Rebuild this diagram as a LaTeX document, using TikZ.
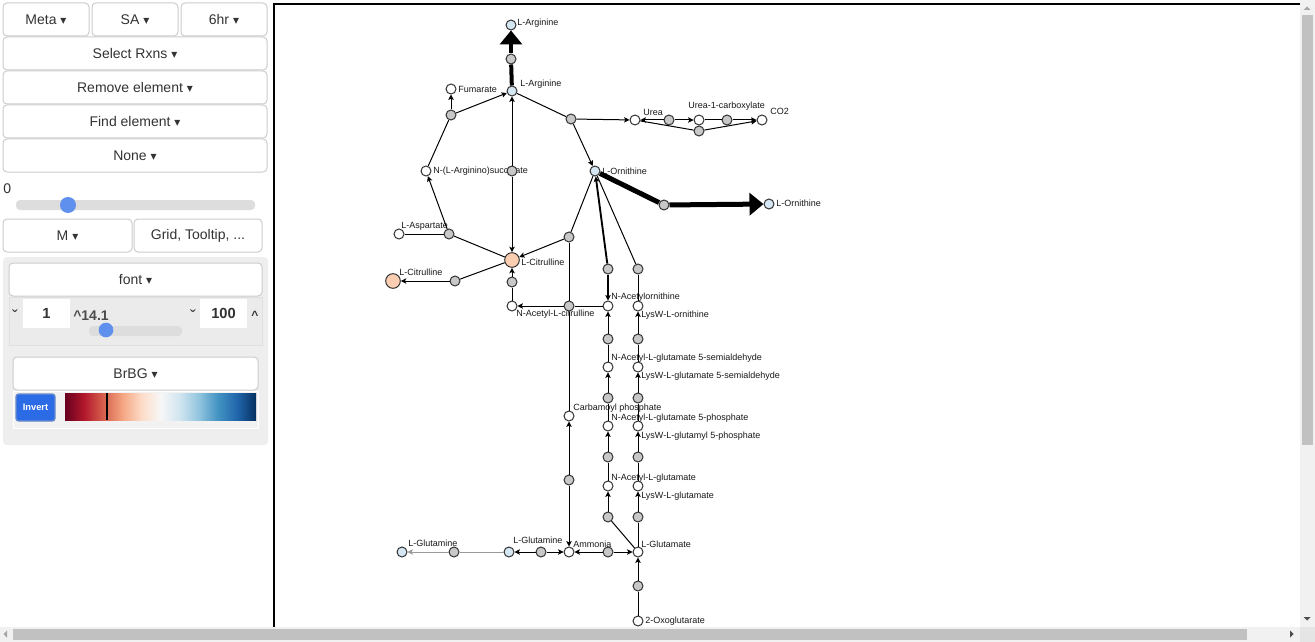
\documentclass[tikz,border=0pt]{standalone}
\usepackage{fontspec}
\setmainfont{Liberation Sans}
\newfontfamily\symf{DejaVu Sans}
\usetikzlibrary{arrows.meta,positioning}

\definecolor{metblue}{HTML}{D4E7F3}
\definecolor{metsalmon}{HTML}{FBCDB1}
\definecolor{rxngray}{HTML}{C8C8C8}
\definecolor{btnline}{HTML}{CCCCCC}
\definecolor{btntext}{HTML}{333333}
\definecolor{panelgray}{HTML}{EEEEEE}
\definecolor{knobblue}{HTML}{6090EE}
\definecolor{trackgray}{HTML}{DDDDDD}
\definecolor{barthumb}{HTML}{C1C1C1}
\definecolor{bartrack}{HTML}{F1F1F1}
\definecolor{invblue}{HTML}{2C6BE6}
\definecolor{invline}{HTML}{6A8CCB}
% RdBu colour bar
\definecolor{cb0}{HTML}{67001F}
\definecolor{cb1}{HTML}{B2182B}
\definecolor{cb2}{HTML}{D6604D}
\definecolor{cb3}{HTML}{F4A582}
\definecolor{cb4}{HTML}{FDDBC7}
\definecolor{cb5}{HTML}{F7F7F7}
\definecolor{cb6}{HTML}{D1E5F0}
\definecolor{cb7}{HTML}{92C5DE}
\definecolor{cb8}{HTML}{4393C3}
\definecolor{cb9}{HTML}{2166AC}
\definecolor{cb10}{HTML}{053061}
\pgfdeclarehorizontalshading{rdbu}{100bp}{color(0bp)=(cb0); color(25bp)=(cb0);
  color(30bp)=(cb1); color(35bp)=(cb2); color(40bp)=(cb3); color(45bp)=(cb4);
  color(50bp)=(cb5); color(55bp)=(cb6); color(60bp)=(cb7); color(65bp)=(cb8);
  color(70bp)=(cb9); color(75bp)=(cb10); color(100bp)=(cb10)}

\newcommand\caret{~{\symf\fontsize{9}{9}\selectfont ▾}}

\tikzset{
  met_pt/.style={circle,inner sep=0pt,minimum size=7.5pt,line width=.75pt,draw=black!80,fill=white},
  met_blue/.style={met_pt,fill=metblue},
  met_hot/.style={met_pt,fill=metsalmon,minimum size=11pt},
  rxn_pt/.style={circle,inner sep=0pt,minimum size=7.5pt,line width=.75pt,draw=black!80,fill=rxngray},
  lbl/.style={anchor=west,inner sep=0pt,font=\fontsize{6.75}{7}\selectfont,text=black!90},
  btn/.style={draw=btnline,fill=white,rounded corners=3pt,line width=.75pt,inner sep=0pt,
    minimum height=24.75pt,font=\fontsize{10.5}{12}\selectfont,text=btntext},
  ui_txt/.style={inner sep=0pt,font=\fontsize{10.5}{12}\selectfont,text=btntext},
}

\begin{document}
\begin{tikzpicture}[
  x=.75pt, y=-.75pt,
  edge/.style={line width=.75pt},
  prod/.style={edge,-{Stealth[length=4pt,width=4pt,inset=.8pt]}},
  faint/.style={line width=.75pt,draw=black!40},
  flux/.style={line width=3pt},
  fluxend/.style={line width=3pt,-{Triangle[length=10.5pt,width=16.5pt]}},
  ]
  \useasboundingbox (0,0) rectangle (1315,642);
  \fill[white] (0,0) rectangle (1315,642);

  % control panel
  \node[btn,minimum width=64.5pt] (meta) at (46,19.5) {Meta\caret};
  \node[btn,minimum width=64.5pt] (sa) at (135,19.5) {SA\caret};
  \node[btn,minimum width=64.5pt] (hr) at (224,19.5) {6hr\caret};
  \node[btn,minimum width=198pt] (selrxn) at (135,53.5) {Select Rxns\caret};
  \node[btn,minimum width=198pt] (remove) at (135,87.5) {Remove element\caret};
  \node[btn,minimum width=198pt] (find) at (135,121.5) {Find element\caret};
  \node[btn,minimum width=198pt] (none) at (135,155.5) {None\caret};
  \node[ui_txt,anchor=west] (zero) at (3,189) {0};
  \fill[trackgray,rounded corners=3pt] (16,200) rectangle (255,210);
  \fill[knobblue] (68,205) circle[radius=6pt];
  \node[btn,minimum width=96.75pt] (mbtn) at (67.5,235.5) {M\caret};
  \node[btn,minimum width=96pt] (grid) at (198,235.5) {Grid, Tooltip, ...};

  \fill[panelgray,rounded corners=3pt] (3,257) rectangle (268,445);
  \node[btn,minimum width=189.75pt] (font) at (135.5,279.5) {font\caret};
  \draw[black!12,fill=black!8] (9,297) rectangle (262,345);
  \node[ui_txt,font=\fontsize{13}{13}\selectfont] (dn1) at (15,316) {ˇ};
  \node[fill=white,minimum width=35.25pt,minimum height=21.75pt,inner sep=0pt,
    font=\bfseries\fontsize{11}{12}\selectfont,text=btntext] (fmin) at (46.5,313.5) {1};
  \node[ui_txt,anchor=west,font=\bfseries\fontsize{10.5}{12}\selectfont,text=black!70] (fval) at (73,316) {\textasciicircum 14.1};
  \node[ui_txt,font=\fontsize{13}{13}\selectfont] (dn2) at (193,316) {ˇ};
  \node[fill=white,minimum width=35.25pt,minimum height=21.75pt,inner sep=0pt,
    font=\bfseries\fontsize{11}{12}\selectfont,text=btntext] (fmax) at (223.5,313.5) {100};
  \node[ui_txt,font=\bfseries\fontsize{9}{9}\selectfont] (up2) at (255,315) {\textasciicircum};
  \fill[trackgray,rounded corners=3pt] (89,326) rectangle (182,336);
  \fill[knobblue] (106,330) circle[radius=5.5pt];

  \node[btn,minimum width=183.75pt] (brbg) at (135.5,373.5) {BrBG\caret};
  \draw[white,fill=black!5] (13,391) rectangle (258,428);
  \node[draw=invline,fill=invblue,rounded corners=2pt,line width=1pt,inner sep=0pt,
    minimum width=29.25pt,minimum height=20.25pt,text=white,
    font=\bfseries\fontsize{7}{8}\selectfont] (invert) at (35.5,407.5) {Invert};
  \shade[shading=rdbu] (65,393) rectangle (256,420);
  \draw[line width=1.5pt] (107,393) -- (107,420);

  % scroll bars
  \fill[bartrack] (1300,0) rectangle (1315,627);
  \fill[barthumb] (1302,15) rectangle (1313,445);
  \fill[black!35] (1303.5,10) -- (1310.5,10) -- (1307,6.5) -- cycle;
  \fill[black!70] (1303.5,617) -- (1310.5,617) -- (1307,620.5) -- cycle;
  \fill[bartrack] (0,627) rectangle (1300,642);
  \fill[barthumb] (13,629) rectangle (1247,640);
  \fill[black!35] (7,630.5) -- (7,637.5) -- (3.5,634) -- cycle;
  \fill[black!70] (1290,630.5) -- (1290,637.5) -- (1293.5,634) -- cycle;
  \fill[black!10] (1300,627) rectangle (1315,642);

  % map frame
  \draw[line width=1.5pt] (274,627) -- (274,4) -- (1300,4);

  % labels
  \foreach \n/\x/\y/\t in {l_argtop/517/23/L-Arginine, l_arg/520/84/L-Arginine,
      l_fum/458/89/Fumarate, l_urea/643/112/Urea, l_ucarb/688/106/Urea-1-carboxylate,
      l_co2/770/111/CO2, l_orn/602/171/L-Ornithine, l_succ/433/171/N-(L-Arginino)succinate,
      l_ornout/776/203/L-Ornithine, l_asp/401/226/L-Aspartate, l_cit/521/262/L-Citrulline,
      l_citout/399/272/L-Citrulline, l_nacit/516/314/N-Acetyl-L-citrulline,
      l_nacorn/611/297/N-Acetylornithine, l_lysworn/641/315/LysW-L-ornithine,
      l_nagsa/611/358/N-Acetyl-L-glutamate 5-semialdehyde,
      l_lwgsa/641/376/LysW-L-glutamate 5-semialdehyde,
      l_carbp/573/408/Carbamoyl phosphate, l_nagp/611/418/N-Acetyl-L-glutamate 5-phosphate,
      l_lwgp/641/436/LysW-L-glutamyl 5-phosphate, l_naglu/611/478/N-Acetyl-L-glutamate,
      l_lwglu/641/496/LysW-L-glutamate, l_glnout/408/543/L-Glutamine,
      l_gln/513/540/L-Glutamine, l_amm/573/544/Ammonia, l_glu/641/544/L-Glutamate,
      l_oxo/645/621/2-Oxoglutarate}{
    \node[lbl] (\n) at (\x,\y) {\t};
  }

  % metabolites
  \node[met_blue] (argtop) at (511,25) {};
  \node[met_blue] (arg) at (512,91) {};
  \node[met_blue] (orn) at (595,171) {};
  \node[met_blue] (ornout) at (769,204) {};
  \node[met_blue] (glnout) at (402,552) {};
  \node[met_blue] (gln) at (509,552) {};
  \node[met_hot] (cit) at (512,260) {};
  \node[met_hot] (citout) at (393,281) {};
  \foreach \n/\x/\y in {fum/451/89, urea/635/120, ucarb/699/120, co2/762/120,
      succ/426/171, asp/399/234, nacit/512/306, nacorn/608/306, lysworn/638/306,
      nagsa/608/367, lwgsa/638/367, carbp/569/416, nagp/608/426, lwgp/638/426,
      naglu/608/486, lwglu/638/486, amm/569/552, glu/638/552, oxo/638/621}{
    \node[met_pt] (\n) at (\x,\y) {};
  }

  % reactions
  \foreach \n/\x/\y in {r1/511/59, r2/451/115, r3/449/234, r4/512/171, r5/571/119,
      r6/669/120, r7/727/120, r8/699/131, r9/664/205, r10/569/237, r11/569/306,
      r12/512/282, r13/608/269, r14/638/269, r15/608/339, r16/638/339, r17/608/398,
      r18/638/398, r19/608/457, r20/638/457, r21/608/517, r22/638/517, r23/569/480,
      r24/541/552, r25/608/552, r26/454/552, r27/638/586, r28/455/281}{
    \node[rxn_pt] (\n) at (\x,\y) {};
  }

  % fluxes
  \draw[flux] (arg) -- (r1);
  \draw[fluxend] (r1) -- (argtop);
  \draw[flux,line width=3.75pt] (orn) -- (r9);
  \draw[fluxend,line width=3.75pt] (r9) -- (ornout);

  \foreach \a/\b in {r2/succ, asp/r3, r3/cit, arg/r5, ucarb/r7, urea/r8, r10/orn,
      r10/r11, r11/carbp, r11/nacorn, nacit/r12, r14/orn, r14/lysworn, r15/nagsa,
      r16/lwgsa, r17/nagp, r18/lwgp, r19/naglu, r20/lwglu, r21/glu, r22/glu, r27/oxo,
      cit/r28}{
    \draw[edge] (\a) -- (\b);
  }
  \foreach \a/\b in {r2/fum, r2/arg, r3/succ, r4/arg, r4/cit, r5/urea, r5/orn,
      r6/urea, r6/ucarb, r7/co2, r8/co2, r10/cit, r11/nacit, r12/cit, r15/nacorn,
      r16/lysworn, r17/nagsa, r18/lwgsa, r19/nagp, r20/lwgp, r21/naglu, r22/lwglu,
      r23/carbp, r23/amm, r24/gln, r24/amm, r25/amm, r25/glu, r27/glu, r28/citout}{
    \draw[prod] (\a) -- (\b);
  }
  \draw[prod,line width=1.4pt] (r13) -- (orn);
  \draw[prod,line width=1.4pt] (r13) -- (nacorn);
  \draw[prod,draw=black!40] (r26) -- (glnout);
  \draw[faint] (r26) -- (gln);
\end{tikzpicture}
\end{document}
